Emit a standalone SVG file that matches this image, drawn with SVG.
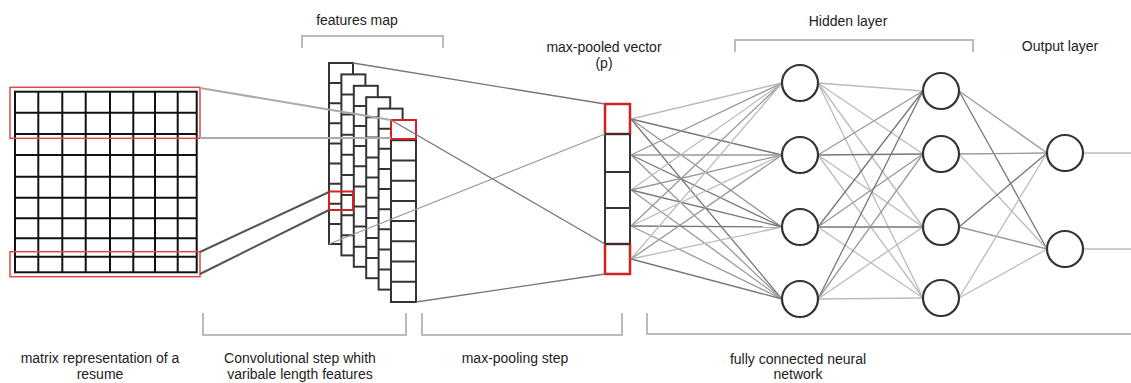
<svg xmlns="http://www.w3.org/2000/svg" width="1131" height="383" viewBox="0 0 1131 383">
<style>
text{font-family:"Liberation Sans",Arial,sans-serif;font-size:14px;fill:#222;text-anchor:middle}
.grid{stroke:#111;stroke-width:2;fill:none}
.cell{fill:#fff;stroke:#333;stroke-width:2}
.red{fill:none;stroke:#e04848;stroke-width:1.5}
.redb{fill:none;stroke:#d42222;stroke-width:2.5}
.brk{fill:none;stroke:#bbb;stroke-width:2}
.node{fill:#fff;stroke:#333;stroke-width:2.2}
.l1{stroke:#999;stroke-width:1.3;fill:none}
.l2{stroke:#bbb;stroke-width:1.3;fill:none}
.l3{stroke:#777;stroke-width:1.3;fill:none}
.ld{stroke:#555;stroke-width:2;fill:none}
.lt{stroke:#aaa;stroke-width:2;fill:none}
</style>

<g id="labels">
<text x="357" y="25">features map</text>
<text x="604" y="52">max-pooled vector</text>
<text x="604" y="68">(p)</text>
<text x="848" y="26">Hidden layer</text>
<text x="1060" y="51">Output layer</text>
<text x="100" y="363">matrix representation of a</text>
<text x="100" y="379">resume</text>
<text x="300" y="363">Convolutional step whith</text>
<text x="300" y="379">varibale length features</text>
<text x="515" y="363">max-pooling step</text>
<text x="798" y="364">fully connected neural</text>
<text x="798" y="379">network</text>
</g>

<g id="brackets">
<path class="brk" d="M302,48 V36 H443 V48"/>
<path class="brk" d="M735,52 V40 H973 V52"/>
<path class="brk" d="M203,313 V335 H406 V313"/>
<path class="brk" d="M422,313 V335 H622 V313"/>
<path class="brk" d="M647,313 V334 H1131"/>
</g>

<g id="matrix">
<rect x="15" y="91.7" width="181.7" height="180.6" class="grid"/>
<path class="grid" d="M38.3,91.7V272.3M62.3,91.7V272.3M85.7,91.7V272.3M110,91.7V272.3M133.3,91.7V272.3M155,91.7V272.3M177.7,91.7V272.3
M15,112.7H196.7M15,134H196.7M15,155H196.7M15,176.7H196.7M15,197.7H196.7M15,218.3H196.7M15,238.3H196.7M15,256.7H196.7"/>
<rect class="red" x="10" y="87.3" width="190" height="51"/>
<rect class="red" x="10" y="251.7" width="190" height="25"/>
</g>

<g id="feature-map">
<g transform="translate(329,63)">
<rect class="cell" width="24" height="181"/>
<path class="cell" d="M0,20.1H24M0,40.2H24M0,60.3H24M0,80.4H24M0,100.6H24M0,120.7H24M0,140.8H24M0,160.9H24"/>
</g>
<g transform="translate(341.4,74.4)">
<rect class="cell" width="24" height="181"/>
<path class="cell" d="M0,20.1H24M0,40.2H24M0,60.3H24M0,80.4H24M0,100.6H24M0,120.7H24M0,140.8H24M0,160.9H24"/>
</g>
<g transform="translate(353.8,85.8)">
<rect class="cell" width="24" height="181"/>
<path class="cell" d="M0,20.1H24M0,40.2H24M0,60.3H24M0,80.4H24M0,100.6H24M0,120.7H24M0,140.8H24M0,160.9H24"/>
</g>
<g transform="translate(366.2,97.2)">
<rect class="cell" width="24" height="181"/>
<path class="cell" d="M0,20.1H24M0,40.2H24M0,60.3H24M0,80.4H24M0,100.6H24M0,120.7H24M0,140.8H24M0,160.9H24"/>
</g>
<g transform="translate(378.6,108.6)">
<rect class="cell" width="24" height="181"/>
<path class="cell" d="M0,20.1H24M0,40.2H24M0,60.3H24M0,80.4H24M0,100.6H24M0,120.7H24M0,140.8H24M0,160.9H24"/>
</g>
<g transform="translate(391,120)">
<rect class="cell" width="25" height="182"/>
<path class="cell" d="M0,20.2H25M0,40.4H25M0,60.7H25M0,80.9H25M0,101.1H25M0,121.3H25M0,141.6H25M0,161.8H25"/>
</g>
<rect class="redb" x="391" y="120" width="25" height="19" style="stroke-width:2"/>
<rect class="redb" x="329" y="191.5" width="24" height="18.5" style="stroke-width:2"/>
</g>

<g id="pooled-vector">
<rect class="cell" x="605" y="104" width="25" height="170"/>
<path class="cell" d="M605,172H630M605,208H630"/>
<rect class="redb" x="605" y="104" width="25" height="30"/>
<rect class="redb" x="605" y="244" width="25" height="30"/>
<path class="cell" d="M605,134.5V243.5M630,134.5V243.5M605,134H630M605,244H630" style="fill:none"/>
</g>

<g id="connectors">
<line class="lt" x1="200" y1="88" x2="391" y2="120"/>
<line class="lt" x1="200" y1="138" x2="391" y2="138"/>
<line class="ld" x1="200" y1="252" x2="329" y2="192"/>
<line class="ld" x1="200" y1="274" x2="329" y2="210"/>
<line class="l3" x1="353" y1="63" x2="605" y2="104"/>
<line class="l3" x1="391" y1="120" x2="605" y2="244"/>
<line class="l1" x1="329" y1="244" x2="605" y2="134"/>
<line class="l3" x1="416" y1="302" x2="605" y2="274"/>

<line class="l2" x1="631" y1="119" x2="782" y2="83"/>
<line class="l3" x1="631" y1="119" x2="782" y2="155"/>
<line class="l1" x1="631" y1="119" x2="782" y2="227"/>
<line class="l3" x1="631" y1="119" x2="782" y2="299"/>
<line class="l1" x1="631" y1="155" x2="782" y2="83"/>
<line class="l1" x1="631" y1="155" x2="782" y2="155"/>
<line class="l3" x1="631" y1="155" x2="782" y2="227"/>
<line class="l1" x1="631" y1="155" x2="782" y2="299"/>
<line class="l2" x1="631" y1="190" x2="782" y2="83"/>
<line class="l1" x1="631" y1="190" x2="782" y2="155"/>
<line class="l3" x1="631" y1="190" x2="782" y2="227"/>
<line class="l1" x1="631" y1="190" x2="782" y2="299"/>
<line class="l1" x1="631" y1="226" x2="782" y2="83"/>
<line class="l2" x1="631" y1="226" x2="782" y2="155"/>
<line class="l3" x1="631" y1="226" x2="782" y2="227"/>
<line class="l1" x1="631" y1="226" x2="782" y2="299"/>
<line class="l2" x1="631" y1="259" x2="782" y2="83"/>
<line class="l1" x1="631" y1="259" x2="782" y2="155"/>
<line class="l2" x1="631" y1="259" x2="782" y2="227"/>
<line class="l3" x1="631" y1="259" x2="782" y2="299"/>

<line class="l2" x1="818" y1="83" x2="923" y2="91"/>
<line class="l2" x1="818" y1="83" x2="923" y2="154"/>
<line class="l2" x1="818" y1="83" x2="923" y2="227"/>
<line class="l2" x1="818" y1="83" x2="923" y2="298"/>
<line class="l1" x1="818" y1="155" x2="923" y2="91"/>
<line class="l3" x1="818" y1="155" x2="923" y2="154"/>
<line class="l2" x1="818" y1="155" x2="923" y2="227"/>
<line class="l2" x1="818" y1="155" x2="923" y2="298"/>
<line class="l3" x1="818" y1="227" x2="923" y2="91"/>
<line class="l1" x1="818" y1="227" x2="923" y2="154"/>
<line class="l3" x1="818" y1="227" x2="923" y2="227"/>
<line class="l2" x1="818" y1="227" x2="923" y2="298"/>
<line class="l3" x1="818" y1="299" x2="923" y2="91"/>
<line class="l1" x1="818" y1="299" x2="923" y2="154"/>
<line class="l2" x1="818" y1="299" x2="923" y2="227"/>
<line class="l2" x1="818" y1="299" x2="923" y2="298"/>

<line class="l1" x1="959" y1="91" x2="1047" y2="153"/>
<line class="l3" x1="959" y1="91" x2="1047" y2="249"/>
<line class="l1" x1="959" y1="154" x2="1047" y2="153"/>
<line class="l2" x1="959" y1="154" x2="1047" y2="249"/>
<line class="l3" x1="959" y1="227" x2="1047" y2="153"/>
<line class="l1" x1="959" y1="227" x2="1047" y2="249"/>
<line class="l2" x1="959" y1="298" x2="1047" y2="153"/>
<line class="l2" x1="959" y1="298" x2="1047" y2="249"/>

<line class="l2" x1="1083" y1="153" x2="1131" y2="153"/>
<line class="l2" x1="1083" y1="249" x2="1131" y2="249"/>
</g>

<g id="hidden1">
<circle class="node" cx="800" cy="83" r="18"/>
<circle class="node" cx="800" cy="155" r="18"/>
<circle class="node" cx="800" cy="227" r="18"/>
<circle class="node" cx="800" cy="299" r="18"/>
</g>
<g id="hidden2">
<circle class="node" cx="941" cy="91" r="18"/>
<circle class="node" cx="941" cy="154" r="18"/>
<circle class="node" cx="941" cy="227" r="18"/>
<circle class="node" cx="941" cy="298" r="18"/>
</g>
<g id="output">
<circle class="node" cx="1065" cy="153" r="18"/>
<circle class="node" cx="1065" cy="249" r="18"/>
</g>
</svg>
